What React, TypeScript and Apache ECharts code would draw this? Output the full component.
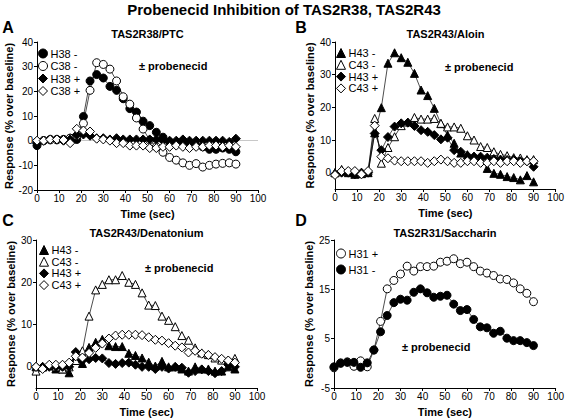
import React, { useEffect, useRef } from "react";
import * as echarts from "echarts";

const TIME = [0, 3, 6, 9, 12, 15, 18, 21, 24, 27, 30, 33, 36, 39, 42, 45, 48, 51, 54, 57, 60, 63, 66, 69, 72, 75, 78, 81, 84, 87, 90];
const X_TICKS = [0, 10, 20, 30, 40, 50, 60, 70, 80, 90, 100];

// Panel A: TAS2R38/PTC
const A_H38_MINUS = [-2, 0, 0.5, 0.5, 0.5, 1, 0.5, 9.8, 24.2, 26.8, 25.4, 22, 20.4, 17, 13, 11.6, 7.9, 6.1, 3.4, 1.4, -0.5, -1, -1, -1.5, -2, -2.5, -3.5, -3.5, -3, -3.5, -4.5];
const A_C38_MINUS = [-0.5, 0, 0.3, 0.3, 0.3, 1, 2, 7, 20.4, 31.6, 30.9, 29, 24.2, 17.8, 14.8, 9.2, 4.7, 0.2, -2.5, -4.7, -6.8, -7.9, -9, -10, -9.3, -10.7, -10, -9.5, -9.2, -9, -9.5];
const A_H38_PLUS = [-1, 0, 0.5, 0.5, 0, 0.5, 2.3, 2.5, 2, 1, 1, 0.5, 1, 0.5, 0.5, 0.5, 0.5, 0.5, 0.5, 0, 0, 0, 0.5, 0, 0, 0, 0, 0, 0, -0.5, 0.8];
const A_C38_PLUS = [0, 0, 0.5, 0.5, 0.3, -1, 4.8, 4.1, 3.7, 0.8, 0.5, 0, -1, -1, -2, -2, -2, -3, -3, -2.5, -2.5, -2, -2.5, -3, -2.5, -2.5, -2, -2, -2.5, -2, -2.5];

// Panel B: TAS2R43/Aloin
const B_H43_MINUS = [0, 0.5, 0, -0.5, -0.3, 0, 12.2, 19.9, 33.5, 36.7, 35.2, 33.8, 30.4, 25.3, 23.6, 19.7, 15, 11.5, 9, 6, 5.5, 5, 4.5, 1.3, -0.2, -0.5, -1.2, -1.5, -2.2, -0.9, -2.8];
const B_C43_MINUS = [0, 1, 0.5, 0.5, 0, 0.5, 16.6, 2.9, 7.7, 11, 14.4, 15.5, 16.9, 16.4, 16.4, 16.6, 15.1, 14, 14, 13.6, 11.3, 10, 8, 7.7, 6.4, 5.6, 5.2, 4.6, 4.5, 4, 4];
const B_H43_PLUS = [-0.5, 0, 0, -0.5, 0, 0, 12, 6.9, 10.9, 14.1, 15.1, 15.3, 14.3, 13, 12.5, 11.5, 10.2, 10.7, 6.9, 6.4, 5.2, 4.9, 4.9, 4.6, 4.2, 4, 3.9, 4, 3.5, 3.5, 1.8];
const B_C43_PLUS = [-0.7, 0.5, 0.5, 0.5, -0.5, 0.5, 14.4, 4.9, 4.4, 3.7, 3.5, 3.5, 3.5, 3.5, 3, 3.5, 4, 3.5, 3, 3, 3.5, 3.5, 3, 3, 3.5, 3, 3.5, 3.5, 3, 3.5, 3.5];

// Panel C: TAS2R43/Denatonium
const C_H43_MINUS = [0, 0, 0.3, -0.5, -0.5, -1.4, 2, 0.8, 4.6, 5.8, 6.5, 5, 4.8, 4.8, 3.2, 2.7, 2.1, 1.1, 0.2, 1.3, 0, 0, -0.5, -1, 0, -0.5, -0.5, -1, -1, 0, -0.5];
const C_C43_MINUS = [-1, 0, 0.3, 0, -0.5, 0, 1.5, 3.8, 12, 18.2, 19.5, 20.6, 20.6, 21.6, 20, 19.5, 17.5, 14.6, 14.5, 12, 11, 9.5, 7.4, 6.3, 4.5, 3.3, 2.9, 2.1, 1.6, 1.6, 2];
const C_H43_PLUS = [0, 0, 0, 0, 0, 0, 3.5, 1.5, 1.8, 2.1, 2, 0.9, 0.7, 0.9, 1, 0.5, 0, 0, -0.5, 0, -0.4, 0, -0.2, -1.4, -1, -0.6, -1, -1.5, -1, 0.5, 0];
const C_C43_PLUS = [0, -0.5, 0.5, 0.5, 0.5, 1, 2.5, 2.2, 3.3, 4.5, 5.5, 6.7, 7.4, 7.6, 7.6, 7.6, 7.5, 7, 6.4, 6.2, 5.6, 5, 4.6, 3.4, 3.8, 3.1, 2.8, 2.3, 1.9, 1.5, 1];

// Panel D: TAS2R31/Saccharin
const D_H31_PLUS = [-0.9, 0.1, 0.3, -0.6, 0.5, -0.7, 2.7, 8.5, 15.1, 16.8, 18.1, 19.7, 18.7, 19.6, 19.6, 19.7, 20.5, 20.7, 21.2, 20.2, 20.5, 19.6, 18.7, 18.3, 17.8, 17.1, 17, 16.3, 15.1, 14.2, 12.5];
const D_H31_MINUS = [-0.7, 0, 0.2, 0.2, -0.8, 0.1, 2.7, 6.4, 9.7, 12.3, 13, 12.8, 14.4, 15.1, 14.3, 13.4, 13.6, 13.8, 12, 10.7, 10.9, 8.9, 7.4, 7.2, 6.1, 6.5, 5.1, 4.6, 4.6, 4.2, 3.6];

const Y_TICKS_A = [-20, -10, 0, 10, 20, 30, 40];
const Y_TICKS_B = [0, 10, 20, 30, 40];
const Y_TICKS_C = [0, 10, 20, 30];
const Y_TICKS_D = [-5, 5, 15, 25];

const FONT = '"Liberation Sans", Arial, Helvetica, sans-serif';

const FILLED = { color: "#000", borderColor: "#000", borderWidth: 1 };
const OPEN = { color: "#fff", borderColor: "#000", borderWidth: 1 };

type Mark = { symbol: string; size: number; style: any };
const M_FC: Mark = { symbol: "circle", size: 8, style: FILLED };
const M_OC: Mark = { symbol: "circle", size: 8, style: OPEN };
const M_FD: Mark = { symbol: "diamond", size: 9, style: FILLED };
const M_OD: Mark = { symbol: "diamond", size: 9, style: OPEN };
const M_FT: Mark = { symbol: "triangle", size: 8, style: FILLED };
const M_OT: Mark = { symbol: "triangle", size: 8, style: OPEN };

function mkSeries(name: string, vals: number[], mark: Mark, idx: number, extra: any = {}) {
  return {
    type: "line",
    name,
    xAxisIndex: idx,
    yAxisIndex: idx,
    data: TIME.map((t, k) => [t, vals[k]]),
    symbol: mark.symbol,
    symbolSize: mark.size,
    showSymbol: true,
    itemStyle: mark.style,
    lineStyle: { color: "#000", width: 0.7 },
    emphasis: { disabled: true },
    ...extra,
  };
}

function mkLegend(idx: number, names: string[], marks: Mark[], left: number, top: number, gap: number) {
  return {
    show: true,
    orient: "vertical",
    left,
    top,
    itemGap: gap,
    itemWidth: 9,
    itemHeight: 9,
    padding: 0,
    selectedMode: false,
    textStyle: { fontSize: 11, color: "#000", fontFamily: FONT, lineHeight: 10, padding: [0, 0, 0, -2] },
    data: names.map((n, k) => ({ name: n, icon: marks[k].symbol, itemStyle: marks[k].style })),
  };
}

const GRIDS = [
  { left: 37, top: 42, width: 221, height: 148 },
  { left: 335, top: 42, width: 221, height: 147 },
  { left: 36, top: 240, width: 221, height: 148 },
  { left: 334, top: 240, width: 222, height: 148 },
];

function mkX(idx: number) {
  return {
    type: "value",
    gridIndex: idx,
    min: 0,
    max: 100,
    interval: 10,
    axisLine: { show: true, onZero: false, lineStyle: { color: "#000", width: 1 } },
    axisTick: { show: true, length: 3, lineStyle: { color: "#000" }, customValues: X_TICKS },
    axisLabel: { fontSize: 10, color: "#000", margin: 3, fontFamily: FONT, customValues: X_TICKS },
    splitLine: { show: false },
    name: "Time (sec)",
    nameLocation: "middle",
    nameGap: 18,
    nameTextStyle: { fontSize: 11, fontWeight: "bold", color: "#000", fontFamily: FONT },
  };
}

function mkY(idx: number, min: number, max: number, ticks: number[]) {
  return {
    type: "value",
    gridIndex: idx,
    min,
    max,
    axisLine: { show: true, onZero: false, lineStyle: { color: "#000", width: 1 } },
    axisTick: { show: true, length: 3, lineStyle: { color: "#000" }, customValues: ticks },
    axisLabel: { fontSize: 10, color: "#000", margin: 4, fontFamily: FONT, customValues: ticks },
    splitLine: { show: false },
    name: "Response (% over baseline)",
    nameLocation: "middle",
    nameGap: 18,
    nameTextStyle: { fontSize: 11, fontWeight: "bold", color: "#000", fontFamily: FONT },
  };
}

function txt(text: string, x: number, y: number, size: number, align = "center") {
  return {
    type: "text",
    x,
    y,
    silent: true,
    style: { text, fontSize: size, fontWeight: "bold", fill: "#000", fontFamily: FONT, align, verticalAlign: "middle" },
  };
}

export default function App() {
  const ref = useRef<HTMLDivElement>(null);
  useEffect(() => {
    const chart = echarts.init(ref.current!, null, { renderer: "svg" });
    const option: any = {
      animation: false,
      backgroundColor: "#fff",
      textStyle: { fontFamily: FONT },
      grid: GRIDS,
      xAxis: [mkX(0), mkX(1), mkX(2), mkX(3)],
      yAxis: [
        mkY(0, -20, 40, Y_TICKS_A),
        mkY(1, -5, 40, Y_TICKS_B),
        mkY(2, -5, 30, Y_TICKS_C),
        mkY(3, -5, 25, Y_TICKS_D),
      ],
      legend: [
        mkLegend(0, ["H38 -", "C38 -", "H38 +", "C38 +"], [M_FC, M_OC, M_FD, M_OD], 38, 48, 1.5),
        mkLegend(1, ["H43 -", "C43 -", "H43 +", "C43 +"], [M_FT, M_OT, M_FD, M_OD], 336, 47.5, 0.8),
        mkLegend(2, ["H43 -", "C43 -", "H43 +", "C43 +"], [M_FT, M_OT, M_FD, M_OD], 39, 244.5, 0.7),
        mkLegend(3, ["H31 +", "H31 -"], [M_OC, M_FC], 336, 248, 5),
      ],
      series: [
        mkSeries("H38 -", A_H38_MINUS, M_FC, 0, {
          markLine: {
            silent: true,
            symbol: "none",
            label: { show: false },
            lineStyle: { color: "#c8c8c8", width: 1, type: "solid" },
            data: [{ yAxis: 0 }],
            z: 1,
          },
        }),
        mkSeries("C38 -", A_C38_MINUS, M_OC, 0),
        mkSeries("H38 +", A_H38_PLUS, M_FD, 0),
        mkSeries("C38 +", A_C38_PLUS, M_OD, 0),
        mkSeries("H43 -", B_H43_MINUS, M_FT, 1),
        mkSeries("C43 -", B_C43_MINUS, M_OT, 1),
        mkSeries("H43 +", B_H43_PLUS, M_FD, 1),
        mkSeries("C43 +", B_C43_PLUS, M_OD, 1),
        mkSeries("H43 -", C_H43_MINUS, M_FT, 2),
        mkSeries("C43 -", C_C43_MINUS, M_OT, 2),
        mkSeries("H43 +", C_H43_PLUS, M_FD, 2),
        mkSeries("C43 +", C_C43_PLUS, M_OD, 2),
        mkSeries("H31 +", D_H31_PLUS, M_OC, 3),
        mkSeries("H31 -", D_H31_MINUS, M_FC, 3),
      ],
      graphic: [
        txt("Probenecid Inhibition of TAS2R38, TAS2R43", 284, 9.5, 15),
        txt("A", 8, 27.5, 16),
        txt("B", 301, 27.5, 16),
        txt("C", 8, 220, 16),
        txt("D", 301, 220, 16),
        txt("TAS2R38/PTC", 147.5, 34, 11),
        txt("TAS2R43/Aloin", 445.5, 34, 11),
        txt("TAS2R43/Denatonium", 146.5, 233, 11),
        txt("TAS2R31/Saccharin", 445, 233, 11),
        txt("± probenecid", 139, 66, 11, "left"),
        txt("± probenecid", 445, 67, 11, "left"),
        txt("± probenecid", 145, 267.5, 11, "left"),
        txt("± probenecid", 402, 347, 11, "left"),
      ],
    };
    chart.setOption(option);
    return () => chart.dispose();
  }, []);
  return (
    <div
      ref={ref}
      style={{ position: "fixed", left: 0, top: 0, width: 567, height: 419, background: "#fff" }}
    />
  );
}
